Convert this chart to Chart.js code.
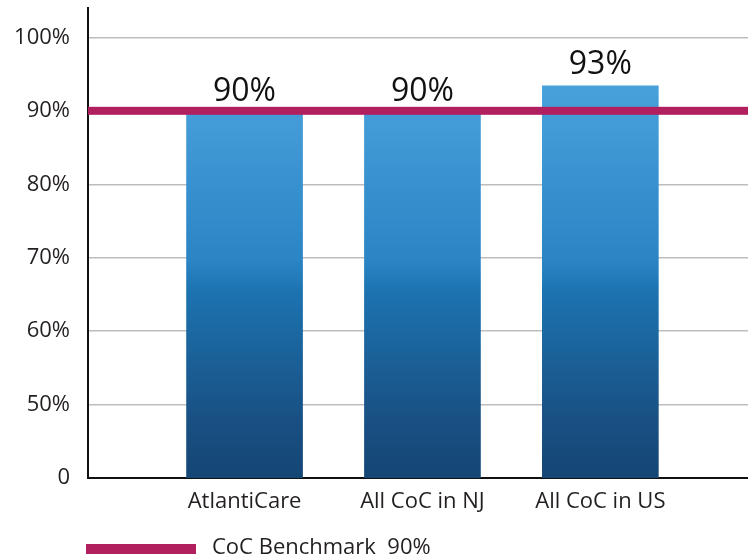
<!DOCTYPE html>
<html><head><meta charset="utf-8">
<script src="https://cdn.jsdelivr.net/npm/chart.js@4"></script>
<style>html,body{margin:0;padding:0;background:#fff}#wrap{width:748px;height:560px}</style>
</head><body><div id="wrap"><canvas id="c" width="748" height="560"></canvas></div>
<script>
const categories = ['AtlantiCare', 'All CoC in NJ', 'All CoC in US'];
const values = [89.7, 89.7, 93.4];
const valueLabels = ['90%', '90%', '93%'];
const benchmarkValue = 90;
const benchmarkLabel = 'CoC Benchmark  90%';
const yTickValues = [40, 50, 60, 70, 80, 90, 100];
const yTickLabels = ['0', '50%', '60%', '70%', '80%', '90%', '100%'];

const FONT = "'Open Sans', sans-serif";
const TEXT = '#231f20';
const BENCH_COLOR = '#b11f5f';

function barGradient(context) {
  const chart = context.chart;
  const area = chart.chartArea;
  if (!area) return '#1b75b3';
  const y = chart.scales.y;
  const g = chart.ctx.createLinearGradient(0, area.bottom, 0, y.getPixelForValue(94));
  g.addColorStop(0, '#144675');
  g.addColorStop(0.15, '#195083');
  g.addColorStop(0.47, '#1c73b0');
  g.addColorStop(0.55, '#2b85c5');
  g.addColorStop(1, '#4aa2dc');
  return g;
}

const overlay = {
  id: 'overlay',
  afterDatasetsDraw(chart) {
    const {ctx, chartArea, scales} = chart;
    const yb = scales.y.getPixelForValue(benchmarkValue);
    ctx.save();
    ctx.fillStyle = BENCH_COLOR;
    ctx.fillRect(chartArea.left, yb - 4, chartArea.right - chartArea.left, 8);
    const meta = chart.getDatasetMeta(0);
    ctx.fillStyle = '#111';
    ctx.font = "32px " + FONT;
    ctx.textAlign = 'center';
    ctx.textBaseline = 'alphabetic';
    meta.data.forEach((bar, i) => {
      ctx.fillText(valueLabels[i], bar.x, bar.y - 12);
    });
    const ly = chart.height - 6;
    ctx.fillStyle = BENCH_COLOR;
    ctx.fillRect(86, ly - 10, 110, 10);
    ctx.fillStyle = TEXT;
    ctx.font = "22px " + FONT;
    ctx.textAlign = 'left';
    ctx.textBaseline = 'middle';
    ctx.fillText(benchmarkLabel, 212, ly - 6);
    ctx.restore();
  }
};

new Chart(document.getElementById('c'), {
  type: 'bar',
  data: {
    datasets: [{
      label: 'Rate',
      data: values.map((v, i) => ({x: i + 1, y: v})),
      backgroundColor: barGradient,
      barThickness: 116,
      borderWidth: 0
    }]
  },
  options: {
    responsive: false,
    animation: false,
    devicePixelRatio: 1,
    layout: {padding: {top: 8, right: 0, left: 0, bottom: 0}},
    plugins: {legend: {display: false}, tooltip: {enabled: false}},
    scales: {
      x: {
        type: 'linear',
        offset: false,
        min: 0.12,
        max: 3.83,
        afterFit(scale) { scale.height = 82; scale.paddingLeft = 0; scale.paddingRight = 0; },
        afterBuildTicks(scale) { scale.ticks = categories.map((c, i) => ({value: i + 1})); },
        ticks: {
          callback: (v) => categories[v - 1] ?? '',
          font: {family: FONT, size: 22},
          color: TEXT,
          padding: 11,
          maxRotation: 0,
          autoSkip: false
        },
        grid: {display: false, drawTicks: false},
        border: {display: true, color: '#111', width: 2}
      },
      y: {
        min: 40,
        max: 104,
        afterFit(scale) { scale.width = 88; scale.paddingTop = 0; scale.paddingBottom = 0; },
        afterBuildTicks(scale) { scale.ticks = yTickValues.map(v => ({value: v})); },
        ticks: {
          callback: (v) => yTickLabels[yTickValues.indexOf(v)] ?? '',
          font: {family: FONT, size: 22},
          color: TEXT,
          padding: 18
        },
        grid: {color: '#bdbdbd', lineWidth: 1.5, drawTicks: false},
        border: {display: true, color: '#111', width: 2}
      }
    }
  },
  plugins: [overlay]
});
</script>
</body></html>
